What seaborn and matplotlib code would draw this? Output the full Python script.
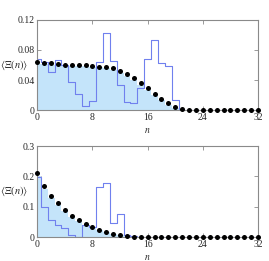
import numpy as np
import pandas as pd
import seaborn as sns
import matplotlib
matplotlib.use("Agg")
import matplotlib.pyplot as plt

# n = 0..32
n = np.arange(33)

# top panel
top_dots = [0.064, 0.063, 0.063, 0.062, 0.0605, 0.060, 0.060, 0.060, 0.059, 0.058,
            0.0575, 0.056, 0.052, 0.048, 0.043, 0.036, 0.029, 0.022, 0.015, 0.009,
            0.0044, 0.001] + [0.0] * 11
top_fill = [0.061, 0.061, 0.060, 0.060, 0.060, 0.059, 0.059, 0.059, 0.058, 0.057,
            0.056, 0.054, 0.050, 0.045, 0.040, 0.034, 0.027, 0.020, 0.013, 0.007,
            0.003] + [0.0] * 12
top_line = [0.0676, 0.064, 0.051, 0.0667, 0.060, 0.0378, 0.022, 0.0057, 0.012, 0.0636,
            0.102, 0.065, 0.033, 0.0105, 0.009, 0.029, 0.0676, 0.093, 0.063, 0.059,
            0.014] + [0.0] * 12

# bottom panel
bot_dots = [0.212, 0.168, 0.137, 0.114, 0.090, 0.071, 0.056, 0.045, 0.033, 0.025,
            0.018, 0.012, 0.0077, 0.0044, 0.002, 0.001] + [0.0] * 17
bot_fill = [0.200, 0.160, 0.130, 0.105, 0.085, 0.066, 0.052, 0.041, 0.031, 0.023,
            0.016, 0.011, 0.007, 0.004, 0.002, 0.001] + [0.0] * 17
bot_line = [0.199, 0.100, 0.057, 0.040, 0.032, 0.007, 0.002, 0.042, 0.033, 0.166,
            0.178, 0.048, 0.077, 0.009, 0.005] + [0.0] * 18

top_yticks = [0, 0.04, 0.08, 0.12]
top_yticklabels = ["0", "0.04", "0.08", "0.12"]
bot_yticks = [0, 0.1, 0.2, 0.3]
bot_yticklabels = ["0", "0.1", "0.2", "0.3"]
xticks = [0, 8, 16, 24, 32]

sns.set_theme(style="ticks")
plt.rcParams["font.family"] = ["Liberation Serif", "DejaVu Serif"]
plt.rcParams["mathtext.fontset"] = "stix"

fill_c = "#c4e4fa"
line_c = "#7080ee"
spine_c = "#8a8a8a"

fig = plt.figure(figsize=(2.69, 2.61), dpi=100)
ax1 = fig.add_axes([0.1387, 0.5785, 0.8205, 0.3449])
ax2 = fig.add_axes([0.1387, 0.0908, 0.8205, 0.3498])


def panel(ax, dots, fill, line, ymax, yticks, yticklabels):
    df = pd.DataFrame({"n": n, "dots": dots, "fill": fill, "line": line})
    sns.histplot(data=df, x="n", weights="fill", discrete=True, element="step",
                 fill=True, color=fill_c, alpha=1, linewidth=0, ax=ax)
    sns.histplot(data=df, x="n", weights="line", discrete=True, element="step",
                 fill=False, color=line_c, linewidth=0.8, ax=ax)
    sns.scatterplot(data=df, x="n", y="dots", color="black", s=13, linewidth=0,
                    ax=ax, zorder=5, clip_on=False)
    ax.set_xlim(0, 32)
    ax.set_ylim(0, ymax)
    ax.set_xticks(xticks)
    ax.set_xticklabels([str(t) for t in xticks])
    ax.set_yticks(yticks)
    ax.set_yticklabels(yticklabels)
    ax.tick_params(direction="in", length=3, width=0.6, color=spine_c, labelsize=7,
                   pad=2, top=True, right=True)
    for s in ax.spines.values():
        s.set_color(spine_c)
        s.set_linewidth(0.8)
    ax.set_xlabel(r"$n$", fontsize=7, labelpad=3)
    ax.set_ylabel(r"$\langle\Xi(n)\rangle$", fontsize=7.5, rotation=0,
                  ha="center", va="center")
    ax.yaxis.set_label_coords(-0.105, 0.5)


panel(ax1, top_dots, top_fill, top_line, 0.12, top_yticks, top_yticklabels)
panel(ax2, bot_dots, bot_fill, bot_line, 0.3, bot_yticks, bot_yticklabels)

fig.savefig("out.png", dpi=100)
